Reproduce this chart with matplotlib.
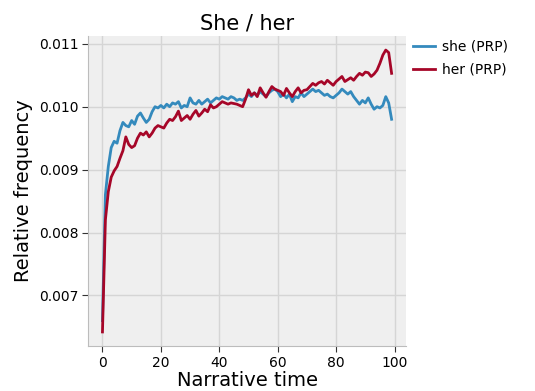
import matplotlib
matplotlib.use("Agg")
import matplotlib.pyplot as plt

plt.style.use("bmh")

narrative_time = list(range(100))

she_prp = [
    0.00660, 0.00860, 0.00905, 0.00935, 0.00945, 0.00942, 0.00962, 0.00975, 0.00970, 0.00968,
    0.00978, 0.00972, 0.00985, 0.00990, 0.00982, 0.00975, 0.00980, 0.00992, 0.01000, 0.00998,
    0.01002, 0.00998, 0.01004, 0.01000, 0.01006, 0.01004, 0.01008, 0.00998, 0.01002, 0.01000,
    0.01014, 0.01006, 0.01004, 0.01010, 0.01004, 0.01008, 0.01012, 0.01006, 0.01010, 0.01014,
    0.01012, 0.01016, 0.01014, 0.01012, 0.01016, 0.01014, 0.01010, 0.01012, 0.01010, 0.01014,
    0.01020, 0.01016, 0.01022, 0.01018, 0.01024, 0.01020, 0.01016, 0.01022, 0.01026, 0.01028,
    0.01024, 0.01016, 0.01020, 0.01014, 0.01020, 0.01008, 0.01016, 0.01014, 0.01022, 0.01016,
    0.01020, 0.01024, 0.01028, 0.01024, 0.01026, 0.01022, 0.01018, 0.01020, 0.01016, 0.01014,
    0.01018, 0.01022, 0.01028, 0.01024, 0.01020, 0.01024, 0.01016, 0.01010, 0.01004, 0.01010,
    0.01006, 0.01014, 0.01004, 0.00996, 0.01000, 0.00998, 0.01002, 0.01016, 0.01006, 0.00980,
]

her_prp = [
    0.00642, 0.00820, 0.00865, 0.00888, 0.00898, 0.00905, 0.00918, 0.00930, 0.00952, 0.00940,
    0.00935, 0.00938, 0.00950, 0.00958, 0.00955, 0.00960, 0.00952, 0.00958, 0.00966, 0.00970,
    0.00968, 0.00966, 0.00974, 0.00980, 0.00978, 0.00984, 0.00993, 0.00978, 0.00982, 0.00986,
    0.00980, 0.00988, 0.00994, 0.00985, 0.00990, 0.00996, 0.00992, 0.01003, 0.00998, 0.01000,
    0.01004, 0.01008, 0.01006, 0.01004, 0.01006, 0.01005, 0.01004, 0.01002, 0.01000, 0.01012,
    0.01027, 0.01018, 0.01022, 0.01016, 0.01030, 0.01022, 0.01015, 0.01024, 0.01032, 0.01028,
    0.01026, 0.01024, 0.01018, 0.01029, 0.01022, 0.01016, 0.01024, 0.01030, 0.01022, 0.01026,
    0.01027, 0.01032, 0.01037, 0.01034, 0.01038, 0.01040, 0.01036, 0.01042, 0.01038, 0.01034,
    0.01040, 0.01044, 0.01048, 0.01040, 0.01043, 0.01046, 0.01042, 0.01048, 0.01053, 0.01050,
    0.01055, 0.01054, 0.01048, 0.01052, 0.01058, 0.01069, 0.01082, 0.01090, 0.01086, 0.01053,
]

series_labels = ["she (PRP)", "her (PRP)"]
title = "She / her"
xlabel = "Narrative time"
ylabel = "Relative frequency"

fig = plt.figure(figsize=(5.35, 3.91), dpi=100, facecolor="white")
ax = fig.add_axes([0.1645, 0.115, 0.5945, 0.793])
ax.set_facecolor("#efefef")
ax.plot(narrative_time, she_prp, color="#348ABD", lw=2, label=series_labels[0])
ax.plot(narrative_time, her_prp, color="#A60628", lw=2, label=series_labels[1])

ax.set_title(title, fontsize=15, pad=5)
ax.set_xlabel(xlabel, fontsize=14, labelpad=1)
ax.set_ylabel(ylabel, fontsize=14, labelpad=4)
ax.set_xticks([0, 20, 40, 60, 80, 100])
ax.set_yticks([0.007, 0.008, 0.009, 0.010, 0.011])
ax.set_yticklabels(["0.007", "0.008", "0.009", "0.010", "0.011"])
ax.tick_params(direction="out", labelsize=10, color="#333333", length=4, pad=3)
ax.grid(True, color="#d5d5d5", lw=1, ls="-")
for s in ["top", "right"]:
    ax.spines[s].set_visible(False)
for s in ["left", "bottom"]:
    ax.spines[s].set_color("#bcbcbc")

ax.legend(loc="upper left", bbox_to_anchor=(0.99, 1.02), frameon=False, fontsize=10,
          borderaxespad=0.3, handlelength=1.6, handletextpad=0.5, labelspacing=0.65)

fig.savefig("out.png", dpi=100, facecolor="white")
